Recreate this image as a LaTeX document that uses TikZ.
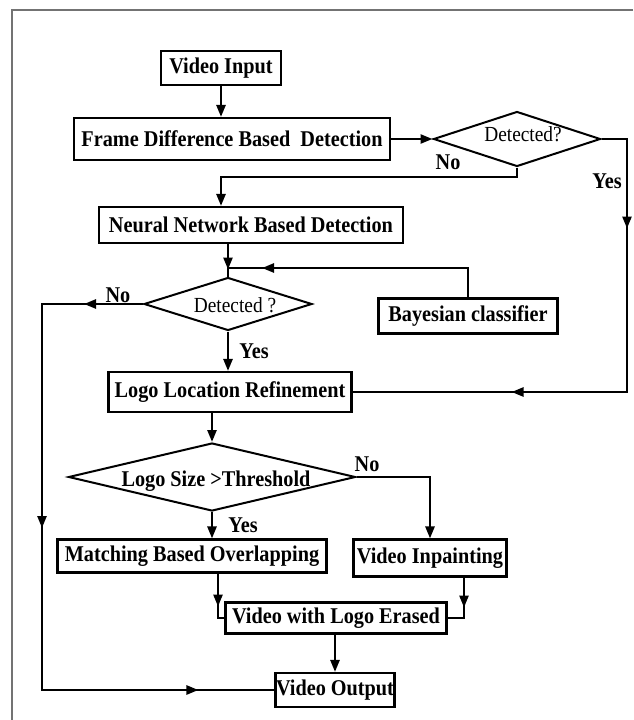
\documentclass[tikz,border=0pt]{standalone}
\usepackage{fontspec}
\setmainfont{Liberation Serif}[FakeStretch=0.9]
\usetikzlibrary{arrows.meta,shapes.geometric,decorations.markings}
\newcommand\myhead{\arrow{Triangle[length=12pt,width=9pt]}}
\begin{document}
\begin{tikzpicture}[x=1pt,y=-1pt,
  box/.style={draw,line width=2.1pt,inner sep=0pt,font=\fontsize{22.5}{24}\selectfont\bfseries},
  dia/.style={draw,diamond,line width=2pt,inner sep=0pt},
  lab/.style={font=\fontsize{22.5}{24}\selectfont\bfseries,inner sep=0pt},
  dtxt/.style={font=\fontsize{21.5}{24}\selectfont,inner sep=0pt},
  conn/.style={line width=2.5pt},
  arr/.style={conn,-{Triangle[length=12pt,width=9pt]}},
  tips/.style={postaction={decorate},decoration={markings,#1}},
  framel/.style={line width=1.6pt,black!55}]
\useasboundingbox (0,0) rectangle (633,720);
% frame
\coordinate (ftl) at (12,10);
\coordinate (ftr) at (633,10);
\coordinate (fbl) at (12,720);
\draw[framel] (ftr) -- (ftl) -- (fbl);
% boxes
\node[box,minimum width=120pt,minimum height=34pt] (vi) at (221,68) {Video Input};
\node[box,minimum width=316pt,minimum height=42pt] (fd) at (232,139) {Frame Difference Based\ \ Detection};
\node[dia,minimum width=167pt,minimum height=55pt] (d1) at (517,139) {};
\node[box,minimum width=304pt,minimum height=36pt] (nn) at (251,225) {Neural Network Based Detection};
\node[dia,minimum width=168pt,minimum height=53pt] (d2) at (228,304) {};
\node[box,minimum width=179pt,minimum height=35pt] (bc) at (468,316) {Bayesian classifier};
\node[box,minimum width=243pt,minimum height=40pt] (lr) at (230,392) {Logo Location Refinement};
\node[dia,minimum width=287pt,minimum height=68pt] (d3) at (212,477) {};
\node[box,minimum width=269pt,minimum height=33pt] (mbo) at (192,556) {Matching Based Overlapping};
\node[box,minimum width=153pt,minimum height=37pt] (vip) at (430,558) {Video Inpainting};
\node[box,minimum width=221pt,minimum height=31pt] (vle) at (336,618) {Video with Logo Erased};
\node[box,minimum width=119pt,minimum height=34pt] (vo) at (335,690) {Video Output};
% diamond texts
\node[dtxt] (d1t) at (523,134) {Detected?};
\node[dtxt] (d2t) at (235,305) {Detected ?};
\node[lab] (d3t) at (216,481) {Logo Size >Threshold};
% labels
\node[lab] (no1) at (448,162) {No};
\node[lab] (yes1) at (607,181) {Yes};
\node[lab] (no2) at (118,295) {No};
\node[lab] (yes2) at (254,351) {Yes};
\node[lab] (no3) at (367,464) {No};
\node[lab] (yes3) at (243,525) {Yes};
% helper coordinates
\coordinate (n1) at (221,177);
\coordinate (y1) at (627,139);
\coordinate (y2) at (627,392);
\coordinate (j1) at (228,268);
\coordinate (l1) at (42,304);
\coordinate (l2) at (42,690);
\coordinate (m1) at (218,600);
\coordinate (m2) at (464,600);
% connectors
\draw[arr] (vi.south) -- (vi.south |- fd.north);
\draw[arr] (fd.east) -- (d1.west);
\draw[arr] (d1.south) |- (n1) -- (n1 |- nn.north);
\draw[conn,tips={mark=at position 115pt with {\myhead},mark=at position -159pt with {\myhead}}]
  (d1.east) -- (y1) -- (y2) -- (lr.east);
\draw[conn,tips={mark=at position -7pt with {\myhead}}] (nn.south -| d2.north) -- (d2.north);
\draw[conn,tips={mark=at position -34pt with {\myhead}}] (bc.north) |- (j1);
\draw[conn,tips={mark=at position 59pt with {\myhead},mark=at position 325pt with {\myhead},mark=at position -76pt with {\myhead}}]
  (d2.west) -- (l1) -- (l2) -- (l2 -| vo.west);
\draw[arr] (d2.south) -- (d2.south |- lr.north);
\draw[arr] (lr.south -| d3.north) -- (d3.north);
\draw[arr] (d3.east) -| (vip.north);
\draw[arr] (d3.south) -- (d3.south |- mbo.north);
\draw[conn,tips={mark=at position 33pt with {\myhead}}] (mbo.south -| m1) |- (vle.west);
\draw[conn,tips={mark=at position 30pt with {\myhead}}] (vip.south -| m2) |- (vle.east);
\draw[arr] (vle.south -| vo.north) -- (vo.north);
\end{tikzpicture}
\end{document}
